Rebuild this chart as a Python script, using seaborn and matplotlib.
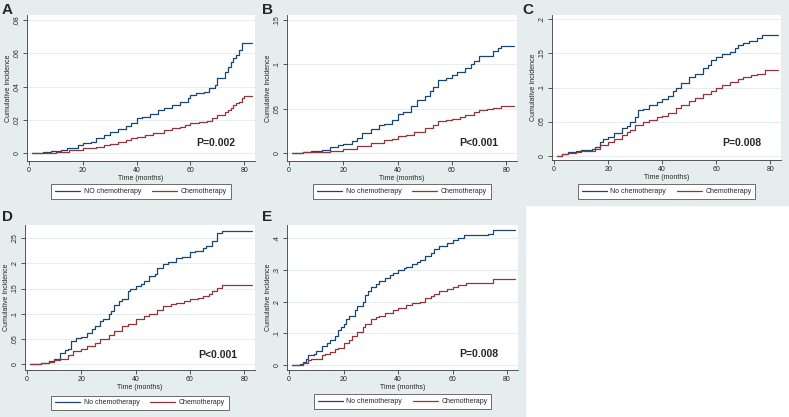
import matplotlib
matplotlib.use("Agg")
import matplotlib.pyplot as plt
from matplotlib.patches import Rectangle
import pandas as pd
import seaborn as sns

# ── Data ────────────────────────────────────────────────────────────────────────
X_TICKS = [0, 20, 40, 60, 80]

a_time_no = [1, 5, 8, 12, 14, 18, 20, 23, 25, 28, 30, 33, 36, 38, 40, 42, 45, 48, 50, 53, 56, 59,
             60, 62, 65, 67, 69, 70, 72, 73, 74, 75, 76, 77, 78, 79, 80, 83]
a_inc_no = [0, .0008, .0012, .002, .003, .005, .006, .0068, .009, .011, .013, .0145, .0165, .018,
            .021, .022, .0235, .026, .0275, .029, .031, .033, .035, .036, .037, .039, .041, .045,
            .045, .049, .052, .055, .057, .059, .062, .066, .0665, .0665]
a_time_ch = [1, 5, 10, 15, 20, 25, 28, 30, 33, 36, 38, 40, 43, 46, 50, 53, 56, 58, 60, 63, 66, 68,
             70, 72, 73, 74, 75, 76, 77, 78, 79, 80, 83]
a_inc_ch = [0, .0005, .001, .002, .003, .004, .005, .0055, .007, .008, .009, .0098, .011, .012,
            .014, .015, .016, .017, .0185, .019, .0195, .021, .023, .023, .025, .026, .027, .029,
            .030, .031, .033, .0345, .0345]

b_time_no = [1, 5, 8, 12, 15, 18, 20, 23, 25, 27, 30, 33, 35, 38, 40, 42, 45, 47, 50, 52, 53, 55,
             58, 60, 62, 65, 67, 68, 70, 72, 75, 77, 78, 83]
b_inc_no = [0, .002, .003, .004, .007, .009, .011, .014, .017, .023, .027, .032, .033, .037, .044,
            .047, .053, .06, .064, .07, .075, .083, .085, .088, .092, .096, .1, .104, .11, .11,
            .115, .118, .121, .121]
b_time_ch = [1, 5, 10, 12, 15, 20, 25, 30, 35, 38, 40, 43, 46, 50, 53, 55, 58, 60, 63, 65, 68, 70,
             73, 75, 78, 83]
b_inc_ch = [0, .001, .0015, .002, .003, .005, .008, .012, .015, .016, .019, .021, .024, .028, .032,
            .036, .037, .039, .041, .043, .046, .049, .05, .051, .053, .053]

c_time_no = [1, 3, 5, 8, 10, 14, 15, 17, 18, 20, 22, 25, 27, 28, 30, 31, 33, 35, 38, 40, 42, 44,
             45, 47, 50, 52, 55, 57, 58, 60, 62, 65, 67, 68, 70, 72, 75, 77, 83]
c_inc_no = [0, .002, .005, .007, .008, .01, .013, .02, .024, .028, .033, .04, .043, .05, .057, .067,
            .069, .075, .079, .083, .088, .095, .1, .106, .115, .12, .128, .133, .14, .145, .149,
            .152, .158, .162, .165, .168, .172, .177, .177]
c_time_ch = [1, 3, 5, 8, 10, 13, 15, 17, 20, 22, 25, 27, 28, 30, 33, 35, 38, 40, 42, 45, 47, 50,
             52, 55, 58, 60, 62, 65, 68, 70, 73, 75, 78, 83]
c_inc_ch = [0, .002, .004, .005, .006, .007, .01, .015, .02, .024, .03, .034, .038, .045, .049,
            .052, .056, .058, .062, .07, .074, .08, .084, .09, .095, .1, .104, .108, .113, .115,
            .118, .12, .125, .125]

d_time_no = [1, 5, 8, 10, 12, 14, 15, 16, 18, 20, 22, 24, 25, 27, 28, 30, 31, 32, 34, 35, 37, 38,
             40, 42, 43, 45, 47, 48, 50, 52, 55, 57, 60, 62, 65, 66, 68, 70, 72, 83]
d_inc_no = [0, .001, .005, .01, .022, .027, .03, .045, .052, .053, .062, .07, .075, .085, .09, .1,
            .105, .118, .125, .13, .145, .15, .155, .16, .165, .175, .18, .19, .198, .203, .21,
            .212, .222, .225, .23, .235, .245, .26, .265, .265]
d_time_ch = [1, 5, 8, 10, 12, 15, 17, 20, 22, 25, 27, 30, 32, 35, 37, 40, 43, 45, 48, 50, 53, 55,
             58, 60, 63, 65, 67, 68, 70, 72, 83]
d_inc_ch = [0, .001, .003, .007, .01, .018, .025, .03, .035, .042, .05, .058, .066, .075, .08, .09,
            .095, .1, .108, .115, .12, .122, .126, .13, .132, .135, .14, .145, .152, .157, .157]

e_time_no = [1, 4, 5, 6, 7, 9, 10, 12, 14, 15, 17, 18, 19, 20, 21, 22, 24, 25, 27, 28, 29, 30, 32,
             33, 35, 37, 38, 40, 42, 43, 45, 47, 48, 50, 52, 53, 55, 58, 60, 62, 64, 70, 73, 75, 83]
e_inc_no = [0, .002, .01, .02, .03, .035, .045, .06, .07, .08, .09, .11, .12, .13, .145, .155, .175,
            .185, .2, .22, .235, .245, .255, .265, .275, .283, .29, .3, .305, .31, .32, .325, .33,
            .345, .355, .365, .375, .385, .395, .4, .41, .41, .415, .425, .425]
e_time_ch = [1, 4, 5, 7, 8, 10, 12, 13, 15, 17, 18, 20, 22, 23, 25, 27, 28, 30, 32, 33, 35, 38, 40,
             43, 45, 48, 50, 52, 53, 55, 58, 60, 62, 65, 70, 73, 75, 83]
e_inc_ch = [0, .001, .005, .015, .018, .02, .03, .035, .042, .05, .055, .07, .08, .09, .105, .12,
            .13, .145, .15, .155, .165, .172, .18, .188, .195, .2, .21, .218, .225, .235, .24, .245,
            .252, .258, .26, .26, .27, .27]

# ── Style ──────────────────────────────────────────────────────────────────────
BG_CLR = "#e6edef"
NAVY = "#1a476f"
MAROON = "#90353b"
AXIS_CLR = "#3a3a3a"
W, H = 789, 417

sns.set_style("white")
plt.rcParams["font.family"] = ["Liberation Sans", "DejaVu Sans"]

fig = plt.figure(figsize=(W / 100, H / 100), dpi=100)
fig.patch.set_facecolor("white")
# L-shaped light background (top row full width, bottom row stops after E)
fig.patches.append(Rectangle((0, 1 - 205 / H), 1, 205 / H, transform=fig.transFigure,
                             color=BG_CLR, zorder=-5))
fig.patches.append(Rectangle((0, 0), 525 / W, 1 - 204 / H, transform=fig.transFigure,
                             color=BG_CLR, zorder=-5))


def px_axes(left, right, top, bottom):
    return fig.add_axes([left / W, 1 - bottom / H, (right - left) / W, (bottom - top) / H])


def draw_panel(box, letter, letter_xy, t_no, v_no, t_ch, v_ch, no_label,
               ylim, yticks, yticklabels, pval, pxy, leg_y):
    ax = px_axes(*box)
    df = pd.concat([
        pd.DataFrame({"time": t_no, "inc": v_no, "group": no_label}),
        pd.DataFrame({"time": t_ch, "inc": v_ch, "group": "Chemotherapy"}),
    ])
    sns.lineplot(data=df, x="time", y="inc", hue="group",
                 palette={no_label: NAVY, "Chemotherapy": MAROON},
                 drawstyle="steps-post", linewidth=0.9, ax=ax, zorder=3)
    ax.set_facecolor("white")
    ax.set_xlim(-0.8, 84)
    ax.set_ylim(*ylim)
    ax.set_xticks(X_TICKS)
    ax.set_yticks(yticks)
    ax.set_yticklabels(yticklabels)
    ax.grid(axis="y", color=BG_CLR, linewidth=0.8, zorder=0)
    ax.grid(axis="x", visible=False)
    for s in ("top", "right"):
        ax.spines[s].set_visible(False)
    for s in ("left", "bottom"):
        ax.spines[s].set_color(AXIS_CLR)
        ax.spines[s].set_linewidth(0.6)
    ax.tick_params(axis="both", direction="out", length=3, width=0.6, color=AXIS_CLR,
                   labelsize=5, pad=1.5, left=True, bottom=True)
    ax.tick_params(axis="y", labelrotation=90)
    for lbl in ax.get_yticklabels():
        lbl.set_va("center")
    ax.set_xlabel("Time (months)", fontsize=5, labelpad=0.5)
    ax.set_ylabel("Cumulative Incidence", fontsize=5, labelpad=1)
    ax.text(pxy[0], pxy[1], pval, transform=ax.transAxes, fontsize=7.5,
            fontweight="bold", ha="center", va="center")
    sns.move_legend(ax, "upper center", bbox_to_anchor=(0.5, leg_y), ncol=2, title=None,
                    frameon=True, fancybox=False, fontsize=5, handlelength=3.6,
                    handletextpad=0.5, columnspacing=1.6, borderpad=0.55,
                    edgecolor="#555555", framealpha=1)
    ax.get_legend().get_frame().set_linewidth(0.6)
    for line in ax.get_legend().get_lines():
        line.set_linewidth(0.9)
    fig.text(letter_xy[0] / W, 1 - letter_xy[1] / H, letter, fontsize=11,
             fontweight="bold", ha="left", va="baseline")
    return ax


draw_panel((27, 255, 15, 161), "A", (2, 14), a_time_no, a_inc_no, a_time_ch, a_inc_ch,
           "NO chemotherapy", (-0.0046, 0.083), [0, .02, .04, .06, .08],
           ["0", ".02", ".04", ".06", ".08"], "P=0.002", (0.83, 0.12), -0.137)
draw_panel((287, 517, 15, 161), "B", (262, 14), b_time_no, b_inc_no, b_time_ch, b_inc_ch,
           "No chemotherapy", (-0.0086, 0.1556), [0, .05, .1, .15],
           ["0", ".05", ".1", ".15"], "P<0.001", (0.835, 0.12), -0.137)
draw_panel((552, 781, 15, 160), "C", (522, 14), c_time_no, c_inc_no, c_time_ch, c_inc_ch,
           "No chemotherapy", (-0.0065, 0.2065), [0, .05, .1, .15, .2],
           ["0", ".05", ".1", ".15", ".2"], "P=0.008", (0.83, 0.12), -0.145)
draw_panel((25, 255, 225, 370), "D", (2, 221), d_time_no, d_inc_no, d_time_ch, d_inc_ch,
           "No chemotherapy", (-0.012, 0.2765), [0, .05, .1, .15, .2, .25],
           ["0", ".05", ".1", ".15", ".2", ".25"], "P<0.001", (0.84, 0.10), -0.152)
draw_panel((287, 518, 225, 370), "E", (262, 221), e_time_no, e_inc_no, e_time_ch, e_inc_ch,
           "No chemotherapy", (-0.016, 0.442), [0, .1, .2, .3, .4],
           ["0", ".1", ".2", ".3", ".4"], "P=0.008", (0.83, 0.11), -0.145)

fig.savefig("out.png", dpi=100)
